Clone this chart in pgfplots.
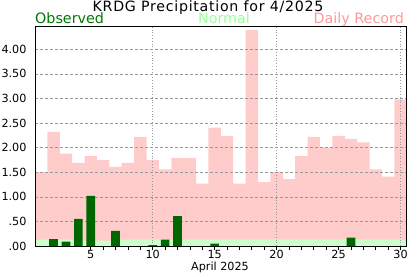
\documentclass[border=0pt]{standalone}
\usepackage{pgfplots}
\pgfplotsset{compat=1.18}
\usepackage{fontspec}
\setmainfont{DejaVu Sans}
\definecolor{obsgreen}{HTML}{006600}
\definecolor{obstext}{HTML}{007700}
\definecolor{normfill}{HTML}{CCFFCC}
\definecolor{normtext}{HTML}{99FF99}
\definecolor{recfill}{HTML}{FFCCCC}
\definecolor{rectext}{HTML}{FF9999}
\definecolor{gridgray}{HTML}{999999}

\pgfplotstableread{
day rec
1 1.50
2 2.32
3 1.88
4 1.69
5 1.83
6 1.75
7 1.61
8 1.69
9 2.22
10 1.75
11 1.56
12 1.79
13 1.79
14 1.27
15 2.41
16 2.24
17 1.27
18 4.39
19 1.30
20 1.50
21 1.36
22 1.83
23 2.22
24 2.00
25 2.24
26 2.18
27 2.11
28 1.56
29 1.41
30 2.98
}\records

\pgfplotstableread{
day norm
1 0.13
2 0.13
3 0.13
4 0.11
5 0.11
6 0.11
7 0.11
8 0.13
9 0.13
10 0.13
11 0.13
12 0.13
13 0.13
14 0.13
15 0.13
16 0.13
17 0.13
18 0.13
19 0.13
20 0.13
21 0.13
22 0.13
23 0.13
24 0.13
25 0.13
26 0.13
27 0.13
28 0.13
29 0.13
30 0.13
}\normals

\pgfplotstableread{
day obs
2 0.14
3 0.09
4 0.55
5 1.02
7 0.31
10 0.02
11 0.13
12 0.61
15 0.05
26 0.17
}\observed

\begin{document}
\begin{tikzpicture}
\begin{axis}[
  at={(35pt,30pt)}, anchor=south west,
  scale only axis,
  width=371.7pt, height=219.3pt,
  xmin=0.5, xmax=30.5,
  ymin=0, ymax=4.46,
  set layers,
  axis line style={line width=0.9pt},
  xtick={5,10,15,20,25,30},
  minor x tick num=4,
  xtick pos=bottom, ytick pos=left,
  tick align=outside,
  major tick length=4pt, minor tick length=3.5pt,
  tick style={black, line width=0.7pt},
  ytick={0,0.5,1,1.5,2,2.5,3,3.5,4},
  yticklabels={.00,.50,1.00,1.50,2.00,2.50,3.00,3.50,4.00},
  ytick style={draw=none},
  ymajorgrids,
  major grid style={gridgray, dashed, dash pattern=on 3pt off 2pt, line width=0.6pt},
  extra x ticks={10,20,30},
  extra x tick labels={},
  extra x tick style={grid=major, major grid style={gridgray, line width=0.7pt, dash pattern=on 0.8pt off 2pt}},
  /pgf/number format/assume math mode=true,
  ticklabel style={font=\fontsize{11.2}{12}\selectfont},
  xticklabel style={yshift=3pt},
  yticklabel style={xshift=-1pt},
]
\addplot[on layer=axis background, ybar, bar width=1, bar shift=0, fill=recfill, draw=none] table[x=day,y=rec] {\records};
\addplot[on layer=axis background, ybar, bar width=1, bar shift=0, fill=normfill, draw=none] table[x=day,y=norm] {\normals};
\addplot[ybar, bar width=0.7, bar shift=0, fill=obsgreen, draw=none] table[x=day,y=obs] {\observed};
\end{axis}
\node[anchor=base, inner sep=0pt, font=\fontsize{14.2}{15}\selectfont\addfontfeature{LetterSpace=5}] at (208pt,264.6pt) {KRDG Precipitation for 4/2025};
\node[anchor=base west, inner sep=0pt, text=obstext, font=\fontsize{14.3}{15}\selectfont] at (35pt,252pt) {Observed};
\node[anchor=base, inner sep=0pt, text=normtext, font=\fontsize{14.3}{15}\selectfont] at (224pt,252pt) {Normal};
\node[anchor=base east, inner sep=0pt, text=rectext, font=\fontsize{14.3}{15}\selectfont] at (404pt,252pt) {Daily Record};
\node[anchor=base, inner sep=0pt, font=\fontsize{11.2}{12}\selectfont] at (220pt,5.3pt) {April 2025};
\pgfresetboundingbox
\useasboundingbox (0,0) rectangle (417pt,276pt);
\end{tikzpicture}
\end{document}
